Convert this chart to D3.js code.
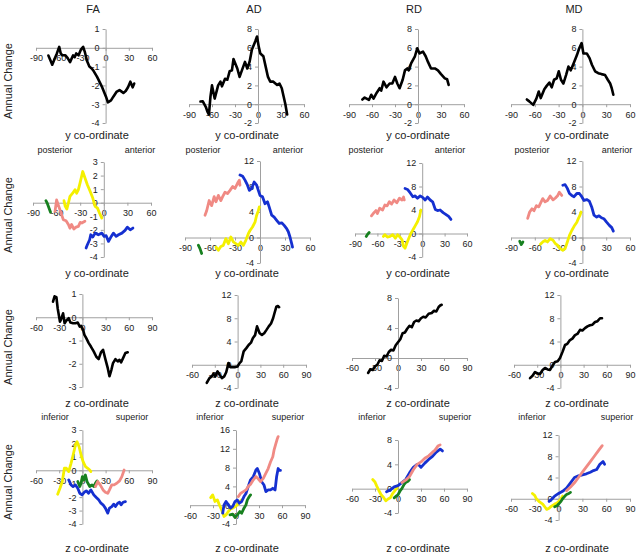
<!DOCTYPE html>
<html>
<head>
<meta charset="utf-8">
<script src="https://d3js.org/d3.v7.min.js"></script>
<style>
  body { margin: 0; background: #fff; }
  svg { font-family: "Liberation Sans", Arial, sans-serif; }
  .tick text { font-size: 9px; fill: #222; }
  .domain, .tick line { stroke: #a0a0a0; }
  .lbl { font-size: 11px; fill: #222; }
  .small { font-size: 9px; fill: #222; }
</style>
</head>
<body>
<svg id="chart" width="640" height="554"></svg>
<script>
// ---- data: [coordinate, annual change] ----
const measures = ['FA', 'AD', 'RD', 'MD'];
const yAxisTicks = [-90, -60, -30, 0, 30, 60];
const zAxisTicks = [-60, -30, 0, 30, 60, 90];

// row 1: whole tract, along y
const faY = [[-74,-0.41],[-71,-0.7],[-69,-0.9],[-66,-0.6],[-63,-0.3],[-60,0.05],[-58,-0.3],[-56,-0.4],[-52,-0.4],[-49,-0.55],[-46,-0.76],[-42,-0.4],[-40,-0.5],[-38,-0.3],[-35,-0.4],[-32,-0.1],[-29,0.05],[-27,-0.2],[-24,-0.7],[-21,-1.0],[-18,-1.1],[-16,-1.2],[-11,-1.55],[-5,-2.05],[0.5,-2.6],[3,-2.9],[7,-2.8],[10,-2.6],[14,-2.35],[18,-2.25],[23,-2.4],[26,-2.3],[29,-2.1],[32,-1.8],[35,-2.1],[37,-1.9]];
const adY = [[-75,0.28],[-72,0.3],[-68,-0.3],[-66,-0.8],[-64,-1.1],[-62,0.8],[-60,2.0],[-56.5,0.6],[-52,2.0],[-49,2.4],[-47,1.9],[-43,2.7],[-40,2.6],[-37,3.5],[-34,3.6],[-32,4.8],[-27,3.8],[-24,2.9],[-21,3.6],[-17,4.5],[-14,3.8],[-11,4.5],[-8,5.8],[-3.5,6.7],[-1.3,7.2],[1,6.1],[3,5.4],[7,5.1],[10,4.0],[13,2.9],[16,2.4],[20,2.4],[25,2.05],[28,2.2],[31,1.7],[33.5,0.8],[35.7,0],[38,-1.1]];
const rdY = [[-72.6,0.5],[-69.6,0.7],[-64,0.45],[-61,1.0],[-58,0.6],[-54,1.2],[-50,1.7],[-48,1.45],[-45,2.4],[-41,1.8],[-37,2.2],[-33.5,2.2],[-30,2.9],[-27,2.2],[-24,1.7],[-20,2.6],[-17,3.6],[-14,3.8],[-12,3.6],[-9,4.35],[-4,5.1],[-1,5.95],[2,5.4],[6.5,5.6],[10,5.1],[13,4.5],[17,3.8],[22,3.8],[26,3.6],[30,3.2],[35,2.75],[38,2.65],[40,2.05]];
const mdY = [[-70,0.5],[-67,0.3],[-62,-0.07],[-58,0.6],[-55,1.35],[-52.5,0.65],[-48,1.6],[-45,1.95],[-41.6,2.3],[-38.7,1.8],[-35.7,2.6],[-32.4,2.75],[-29.8,3.5],[-27,2.6],[-24,2.2],[-20.6,3.1],[-17.6,4.0],[-14.7,3.6],[-11,4.35],[-7,5.2],[-4,5.95],[-1,6.5],[1.3,5.4],[5.5,5.4],[9,4.9],[12,4.2],[16,3.5],[20,3.3],[24,3.2],[28.6,3.1],[32,2.6],[35,2.2],[37,1.7],[39,1.0]];

// row 2: segments, along y
const faYGreen = [[-73.6,0.15],[-72,-0.02],[-69,-0.5],[-67.7,-0.7]];
const faYPink = [[-62,-0.64],[-60,0.2],[-58,-0.15],[-55,-0.64],[-51.5,-1.25],[-48,-1.33],[-45,-1.6],[-43,-1.87],[-41,-1.6],[-38,-1.94],[-35.3,-1.8],[-32.3,-1.74],[-30,-1.45],[-28,-1.5],[-24,-1.37]];
const faYYellow = [[-50.6,0.15],[-49,-0.27],[-47,-0.47],[-45,-0.02],[-43,0.47],[-39.6,0.7],[-36.6,0.96],[-34.5,0.7],[-32.3,0.96],[-30,1.5],[-26.8,2.3],[-23.8,1.8],[-20.9,1.33],[-17.4,0.84],[-14,0.34],[-11,-0.27],[-8,-0.4],[-5.5,-0.76],[-2.5,-1.13]];
const faYBlue = [[-22.5,-3.34],[-20.9,-3.1],[-18,-2.73],[-16.6,-2.36],[-14,-2.53],[-11,-2.24],[-7,-2.36],[-2.5,-2.24],[0.4,-2.48],[3,-2.43],[6,-2.85],[9,-2.53],[12.3,-2.24],[15.7,-2.48],[18.7,-2.36],[23,-2.24],[27,-2.04],[30,-1.8],[33.6,-2.0],[37,-1.87]];

const adYGreen = [[-74,-1.2],[-72,-1.75],[-70,-2.5]];
const adYPink = [[-66,3.5],[-64,4.2],[-61,5.8],[-58,5.0],[-55,6.4],[-52.8,5.6],[-50,6.6],[-47,5.8],[-44.8,6.4],[-42,7.1],[-39,6.9],[-36,7.4],[-32.8,8.0],[-30,7.7],[-27,8.5],[-24.8,9.0],[-24,8.2]];
const adYYellow = [[-52.8,-1.5],[-50,-2.0],[-47,-1.4],[-44,-1.23],[-41,-0.18],[-38,-0.97],[-35,0.08],[-32,-0.7],[-29,-0.97],[-26,-1.23],[-23,-0.7],[-20,-1.23],[-17,-0.44],[-14,0.6],[-12,1.1],[-9,1.65],[-6,2.4],[-4,3.5],[-2,4.2],[-0.8,4.8]];
const adYBlue = [[-24,9.8],[-20.8,9.6],[-18,9.0],[-15,8.2],[-12.8,7.4],[-10,7.7],[-7,8.7],[-4,8.2],[-2,7.4],[0,6.6],[3,6.4],[6,5.3],[9,5.6],[11,4.8],[14,3.5],[17,3.2],[20,2.7],[23,2.2],[26,2.3],[29,1.9],[32,1.4],[34,0.9],[36,0.08],[38,-0.97],[39,-1.5]];

const rdYGreen = [[-75,-0.5],[-73.5,-0.2],[-71,0.17]];
const rdYPink = [[-68,3.0],[-64.6,3.55],[-62,3.9],[-60,3.4],[-57,4.3],[-53,4.0],[-50,4.85],[-47,4.7],[-44,5.4],[-41,5.0],[-37.7,5.7],[-34,5.24],[-30.5,6.0],[-27,5.7],[-25,6.2],[-24,5.7]];
const rdYYellow = [[-52,-0.5],[-50,-0.2],[-46.6,-0.6],[-43,-0.5],[-39.5,-0.2],[-36,-0.8],[-33,-0.2],[-30.5,-0.5],[-27,-1.07],[-25,-2.2],[-23,-2.5],[-19.7,-1.35],[-16,-0.2],[-12.5,0.6],[-9.4,1.3],[-6.3,2.0],[-3.6,2.9],[-1.8,4.0]];
const rdYBlue = [[-23,7.66],[-19.7,7.5],[-16,6.9],[-12.5,6.25],[-9.4,6.4],[-6.3,6.0],[-2.7,6.4],[1,6.1],[4,5.7],[7,6.2],[10.7,5.7],[14,5.4],[17.5,4.1],[20.6,3.9],[24,4.0],[28,3.55],[31,3.3],[35.4,2.9],[38.5,2.4]];

const mdYGreen = [[-79,-0.6],[-77,-1.1],[-75,-0.7]];
const mdYPink = [[-69,3.0],[-66.5,4.0],[-63.6,4.5],[-61,4.2],[-58,5.0],[-55,4.8],[-52,5.6],[-50,6.1],[-47,5.6],[-44,5.8],[-40.6,6.5],[-37,5.9],[-34,6.2],[-31,6.6],[-29,7.1],[-26,6.6]];
const mdYYellow = [[-53,-1.07],[-50,-0.7],[-47,-0.44],[-44,-0.7],[-40.6,-0.18],[-37,-0.44],[-34,-0.97],[-31,-1.23],[-28,-1.75],[-24.7,-2.0],[-21.8,-1.75],[-19,-0.7],[-16.3,0.34],[-13.4,1.1],[-10.5,1.75],[-7,2.4],[-5,3.0],[-3,3.5],[-1.7,4.0]];
const mdYBlue = [[-24.7,8.2],[-21.8,8.3],[-19,7.7],[-16.3,6.9],[-13.4,6.6],[-10.5,6.4],[-7,6.9],[-3.8,6.9],[-0.8,6.4],[2,5.8],[5.4,5.95],[8.8,5.7],[11.7,4.8],[14.6,3.5],[18,3.2],[21,3.4],[24,3.1],[27,2.95],[30.5,2.4],[34,1.9],[37,1.55],[39,1.0]];

// row 3: whole tract, along z
const faZ = [[-38,0.67],[-36,0.9],[-33.6,0.86],[-32,0.39],[-29,-0.19],[-27.6,-0.09],[-25,0.17],[-23,-0.26],[-20.7,-0.14],[-17.7,-0.04],[-15.5,-0.23],[-12,-0.26],[-9,-0.26],[-6,-0.23],[-3.4,-0.4],[-1.7,-0.37],[0.9,-0.54],[2.6,-0.76],[5,-0.9],[8,-1.1],[11,-1.26],[14.6,-1.47],[18,-1.7],[21,-1.8],[24,-1.51],[26.7,-1.4],[29.7,-1.8],[32.8,-2.19],[35,-2.54],[37.5,-2.26],[39.6,-1.97],[42.7,-1.8],[45.7,-1.9],[48,-1.83],[50,-1.94],[52.6,-1.76],[55.6,-1.54],[58.6,-1.51]];
const adZ = [[-40.5,-3.1],[-37,-2.3],[-34,-2.0],[-31.7,-1.54],[-29.5,-2.0],[-26.4,-1.14],[-23.8,-1.7],[-20.7,-2.3],[-17.6,-2.0],[-15,-1.3],[-12,0.29],[-9.7,-0.4],[-6,-0.4],[-3,-0.4],[0,-0.29],[2.6,0.29],[4.8,0.57],[8,2.3],[11.5,2.86],[14.5,3.4],[17.6,3.8],[20,4.57],[23,5.1],[25.6,6.6],[29,5.43],[32,5.14],[35,5.43],[38,6.0],[41,6.6],[44,7.1],[46.7,8.0],[48.5,8.86],[51,10.0],[53,10.1],[54.6,9.9]];
const rdZ = [[-39,-2.0],[-36,-1.5],[-33,-1.6],[-30,-1.1],[-27,-0.9],[-24,-0.3],[-21,-0.4],[-18,0.3],[-15,0.2],[-12,0.8],[-9,1.1],[-6,1.0],[-3,1.7],[0,2.1],[3,2.5],[6,3.3],[9,3.4],[12,3.9],[15,4.3],[18,4.1],[21,4.8],[24,5.0],[27,4.9],[30,5.3],[33,5.5],[36,5.4],[40,5.9],[44,6.0],[47,6.3],[50,6.2],[53,6.8],[55,7.0],[57,7.1]];
const mdZ = [[-39.3,-2.3],[-36,-1.9],[-32.8,-1.25],[-29.5,-1.5],[-26.4,-1.6],[-23,-0.9],[-19.9,-0.56],[-16.5,-0.8],[-13.4,-0.9],[-10,-0.1],[-7,0.47],[-3.5,0.6],[-0.5,1.16],[3,2.3],[6,3.4],[9,3.6],[12.4,4.25],[15.5,4.5],[18.9,5.1],[22,5.3],[25.4,6.0],[28.5,5.9],[31.8,6.3],[35,6.6],[38.3,6.8],[41.5,6.9],[44.8,7.35],[48,7.5],[51.3,8.0],[53.8,8.0]];

// row 4: segments, along z
const faZYellow = [[-32,-1.78],[-29,-1.34],[-26,-0.84],[-23.3,0.15],[-20.7,0.15],[-17.7,-0.1],[-14.7,0.52],[-12,1.14],[-9,1.88],[-6.9,2.13],[-4.3,1.76],[-1.7,1.14],[0.9,0.64],[4,0.27],[6.9,0.15],[9.5,0.02],[11,-0.1]];
const faZGreen = [[-6,-0.84],[-3.4,-1.21],[-1.7,-0.97],[0,-0.47],[1.7,-0.72],[3.9,-0.35],[6,-0.84],[9.5,-1.21],[12.5,-1.09],[14.7,-1.21],[16.8,-0.97],[19,-0.79]];
const faZBlue = [[-17.7,-0.72],[-14.7,-1.09],[-12,-1.21],[-9,-1.09],[-6,-1.34],[-3.4,-1.71],[-0.4,-1.83],[2.6,-1.63],[5,-1.53],[8,-1.71],[11,-1.46],[14.7,-1.83],[18,-2.03],[21,-2.2],[24,-2.45],[26.7,-2.57],[29.7,-2.82],[32.8,-3.19],[35,-2.82],[38,-2.7],[40.5,-2.52],[42.7,-2.7],[45.7,-2.45],[48,-2.38],[50,-2.57],[52.6,-2.38],[55.6,-2.33]];
const faZPink = [[16.8,-1.21],[19.8,-0.84],[23,-1.09],[26.7,-1.46],[29.7,-1.63],[32.8,-1.71],[35,-1.46],[38,-1.09],[41,-1.09],[44.4,-0.97],[48,-0.79],[51,-0.47],[54,0.02]];

const adZYellow = [[-33,1.6],[-30.4,2.2],[-27.4,0.8],[-24.3,1.13],[-21.7,0.07],[-18.7,-1.0],[-15.6,-2.4],[-13,-2.05],[-10,-1.34],[-7,-0.78],[-4.3,-0.64],[-1.3,-0.28],[1.7,0.07],[5,0.78],[7.4,1.13]];
const adZGreen = [[-7.8,-2.05],[-4.3,-1.9],[-1.3,-2.6],[1.7,-2.05],[5,-1.34],[7.4,-1.7],[10.4,-0.64],[13,0.07],[14.8,1.13],[17.4,1.84],[19,2.2]];
const adZBlue = [[-17.4,-1.7],[-15.6,0.07],[-13,0.78],[-10,0.07],[-7,-0.64],[-4.3,-0.28],[-1.3,0.78],[1.7,1.13],[4.3,0.42],[7.4,0.78],[10.4,1.84],[13,2.5],[16,4.0],[19,5.4],[22.6,6.1],[26,7.5],[27.8,7.8],[30.4,6.8],[33.5,5.0],[36.5,4.3],[39,2.9],[42,3.25],[45,3.25],[48,3.6],[51,3.25],[53,6.1],[55,7.8],[56.5,7.4],[58,7.4]];
const adZPink = [[3,1.84],[6,2.5],[9.6,2.9],[13,3.25],[16,4.0],[19,4.45],[22.6,5.4],[26,6.1],[29,5.6],[32,5.0],[35.6,5.7],[39,6.8],[42,7.8],[45,9.2],[48,10.3],[49.6,11.7],[52,13.1],[54,14.2],[55,14.6]];

const rdZYellow = [[-33,1.5],[-30,1.1],[-28,0.5],[-25,-0.3],[-22,-1],[-19,-1.4],[-16,-2],[-13,-1.7],[-10,-1.5],[-7,-0.8],[-5,-0.5],[-2,0],[0,0.5]];
const rdZGreen = [[-5,-1.5],[-2,-1.2],[0,-1],[3,-0.3],[5,0],[8,0.7],[10,1],[13,1.2],[15,1.5]];
const rdZBlue = [[-15,-0.5],[-10,-0.2],[-5,0.3],[0,0.5],[5,1.0],[10,1.5],[15,2.6],[20,3.5],[25,4],[28,3.8],[30,3.5],[35,4.2],[40,4.8],[45,5.3],[50,6],[55,6.5],[58,6.2]];
const rdZPink = [[5,1],[10,1.4],[15,2],[20,3.1],[25,4],[30,4.4],[35,5],[40,5.4],[45,6],[48,6.3],[52,7],[55,7.2]];

const mdZYellow = [[-33,1],[-30,0.6],[-28,0],[-24,-0.6],[-20,-1],[-17,-1.6],[-15,-2],[-12,-1.8],[-10,-1.5],[-7,-1.2],[-5,-1],[-2,-0.8],[0,-0.5],[3,0],[5,0.5]];
const mdZGreen = [[-5,-1.5],[-2,-1.3],[0,-1],[3,-0.5],[5,0],[8,0.5],[10,0.8],[13,1.0],[15,1.2]];
const mdZBlue = [[-12,-0.5],[-8,0],[-5,0.5],[0,1],[5,1.4],[10,2],[15,3.0],[20,4],[25,4.3],[30,4.5],[35,4.7],[40,5],[44,5.3],[48,5.5],[52,6.5],[56,7],[58,6.5]];
const mdZPink = [[10,1.5],[15,2.2],[20,3],[25,4],[30,5],[35,6],[40,7],[45,8],[50,9],[55,10]];

// ---- layout ----
const C = { black: '#000', green: '#17801f', pink: '#f08a84', yellow: '#f4f000', blue: '#1530d0' };

const panels = [
  { x: [36,152], y: [29,123], yd: [-4,1], yt: [-4,-3,-2,-1,0,1], xt: yAxisTicks, s: [[faY,'black']] },
  { x: [189,304], y: [29,123], yd: [-2,8], yt: [-2,0,2,4,6,8], xt: yAxisTicks, s: [[adY,'black']] },
  { x: [349,464], y: [29,123], yd: [-2,8], yt: [-2,0,2,4,6,8], xt: yAxisTicks, s: [[rdY,'black']] },
  { x: [511,630], y: [29,123], yd: [-2,8], yt: [-2,0,2,4,6,8], xt: yAxisTicks, s: [[mdY,'black']] },

  { x: [33,151], y: [162,257], yd: [-4,3], yt: [-4,-3,-2,-1,0,1,2,3], xt: yAxisTicks, s: [[faYGreen,'green'],[faYPink,'pink'],[faYYellow,'yellow'],[faYBlue,'blue']] },
  { x: [185,310], y: [161,263], yd: [-4,12], yt: [-4,0,4,8,12], xt: yAxisTicks, s: [[adYGreen,'green'],[adYPink,'pink'],[adYYellow,'yellow'],[adYBlue,'blue']] },
  { x: [355,467], y: [163,257], yd: [-4,12], yt: [-4,0,4,8,12], xt: yAxisTicks, s: [[rdYGreen,'green'],[rdYPink,'pink'],[rdYYellow,'yellow'],[rdYBlue,'blue']] },
  { x: [511,630], y: [161,263], yd: [-4,12], yt: [-4,0,4,8,12], xt: yAxisTicks, s: [[mdYGreen,'green'],[mdYPink,'pink'],[mdYYellow,'yellow'],[mdYBlue,'blue']] },

  { x: [36,152], y: [294,387], yd: [-3,1], yt: [-3,-2,-1,0,1], xt: zAxisTicks, s: [[faZ,'black']] },
  { x: [192,306], y: [295,388], yd: [-4,12], yt: [-4,0,4,8,12], xt: zAxisTicks, s: [[adZ,'black']] },
  { x: [352,467], y: [298,388], yd: [-4,8], yt: [-4,0,4,8], xt: zAxisTicks, s: [[rdZ,'black']] },
  { x: [514,630], y: [295,388], yd: [-4,12], yt: [-4,0,4,8,12], xt: zAxisTicks, s: [[mdZ,'black']] },

  { x: [36,152], y: [430,524], yd: [-4,3], yt: [-4,-3,-2,-1,0,1,2,3], xt: zAxisTicks, s: [[faZYellow,'yellow'],[faZGreen,'green'],[faZBlue,'blue'],[faZPink,'pink']] },
  { x: [190,305], y: [430,524], yd: [-4,16], yt: [-4,0,4,8,12,16], xt: zAxisTicks, s: [[adZYellow,'yellow'],[adZGreen,'green'],[adZBlue,'blue'],[adZPink,'pink']] },
  { x: [352,467], y: [440,513], yd: [-4,8], yt: [-4,0,4,8], xt: zAxisTicks, s: [[rdZYellow,'yellow'],[rdZGreen,'green'],[rdZBlue,'blue'],[rdZPink,'pink']] },
  { x: [511,630], y: [435,520], yd: [-4,12], yt: [-4,0,4,8,12], xt: zAxisTicks, s: [[mdZYellow,'yellow'],[mdZGreen,'green'],[mdZBlue,'blue'],[mdZPink,'pink']] }
];

const svg = d3.select('#chart');
const fmt = d => String(d);

panels.forEach(p => {
  const x = d3.scaleLinear().domain(d3.extent(p.xt)).range(p.x);
  const y = d3.scaleLinear().domain(p.yd).range([p.y[1], p.y[0]]);
  const g = svg.append('g');

  g.append('g')
    .attr('transform', `translate(0,${y(0)})`)
    .call(d3.axisBottom(x).tickValues(p.xt).tickFormat(fmt).tickSizeInner(3).tickSizeOuter(0).tickPadding(4));
  g.append('g')
    .attr('transform', `translate(${x(0)},0)`)
    .call(d3.axisLeft(y).tickValues(p.yt).tickFormat(fmt).tickSizeInner(3).tickSizeOuter(0).tickPadding(3));

  const line = d3.line().x(d => x(d[0])).y(d => y(d[1]));
  p.s.forEach(([pts, col]) => {
    g.append('path')
      .attr('d', line(pts))
      .attr('fill', 'none')
      .attr('stroke', C[col])
      .attr('stroke-width', col === 'black' ? 2.6 : 2.8)
      .attr('stroke-linejoin', 'round')
      .attr('stroke-linecap', 'round');
  });
});

// column titles
const titleX = [93, 254, 414, 574];
measures.forEach((m, i) => {
  svg.append('text').attr('class', 'lbl').attr('x', titleX[i]).attr('y', 13)
    .attr('text-anchor', 'middle').text(m);
});

// axis titles
const xTitleX = [97, 247, 418, 577];
const xTitleRows = [[139, 'y co-ordinate'], [277, 'y co-ordinate'], [407, 'z co-ordinate'], [552, 'z co-ordinate']];
xTitleRows.forEach(([yy, t]) => {
  xTitleX.forEach(xx => {
    svg.append('text').attr('class', 'lbl').attr('x', xx).attr('y', yy)
      .attr('text-anchor', 'middle').text(t);
  });
});

const yTitleY = [81, 215, 347, 482];
yTitleY.forEach(yy => {
  svg.append('text').attr('class', 'lbl')
    .attr('transform', `translate(12,${yy}) rotate(-90)`)
    .attr('text-anchor', 'middle').text('Annual Change');
});

// direction labels
const dirLabels = [
  [153, [[55,140],[203,288],[366,450],[532,617]], ['posterior','anterior']],
  [420, [[55,132],[210,288],[372,455],[532,617]], ['inferior','superior']]
];
dirLabels.forEach(([yy, xs, words]) => {
  xs.forEach(pair => {
    pair.forEach((xx, k) => {
      svg.append('text').attr('class', 'small').attr('x', xx).attr('y', yy)
        .attr('text-anchor', 'middle').text(words[k]);
    });
  });
});
</script>
</body>
</html>
